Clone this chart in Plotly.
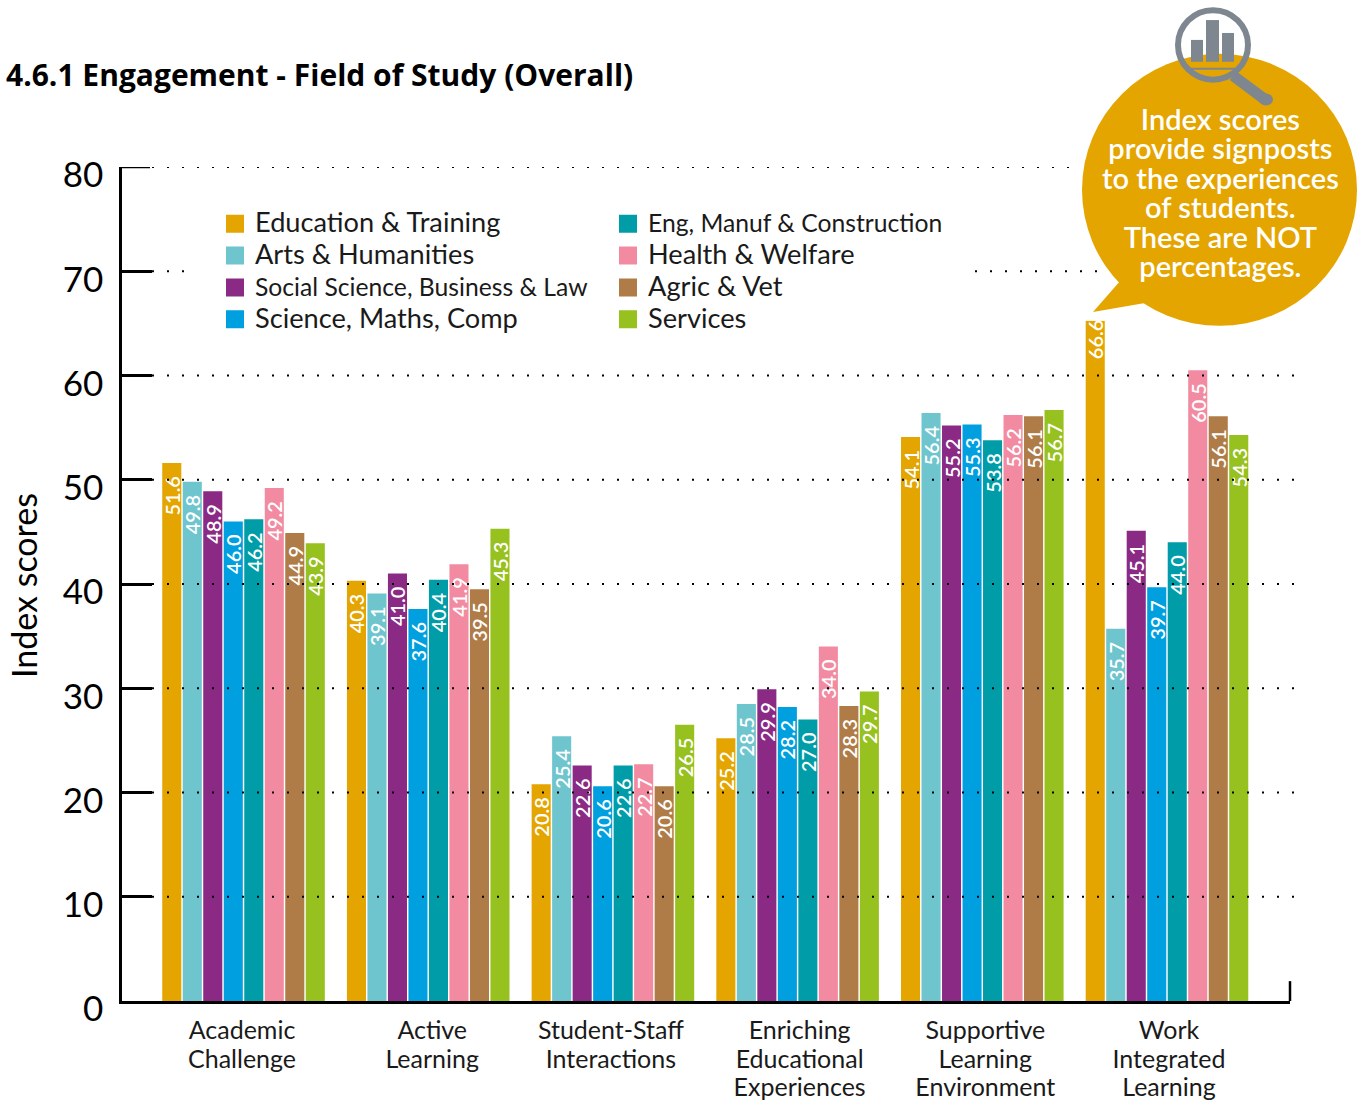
import plotly.graph_objects as go

W, H = 1362, 1113
L, R, T, B = 122, 1290, 167, 1007

groups = [["Academic", "Challenge"], ["Active", "Learning"], ["Student-Staff", "Interactions"],
          ["Enriching", "Educational", "Experiences"], ["Supportive", "Learning", "Environment"],
          ["Work", "Integrated", "Learning"]]
series_names = ["Education & Training", "Arts & Humanities", "Social Science, Business & Law",
                "Science, Maths, Comp", "Eng, Manuf & Construction", "Health & Welfare",
                "Agric & Vet", "Services"]
colors = ["#E5A500", "#6FC5CE", "#8A2A85", "#009FE0", "#009DA8", "#F28BA2", "#AF7C48", "#96C11E"]

education = [51.6, 40.3, 20.8, 25.2, 54.1, 66.6]
arts = [49.8, 39.1, 25.4, 28.5, 56.4, 35.7]
social = [48.9, 41.0, 22.6, 29.9, 55.2, 45.1]
science = [46.0, 37.6, 20.6, 28.2, 55.3, 39.7]
eng = [46.2, 40.4, 22.6, 27.0, 53.8, 44.0]
health = [49.2, 41.9, 22.7, 34.0, 56.2, 60.5]
agric = [44.9, 39.5, 20.6, 28.3, 56.1, 56.1]
services = [43.9, 45.3, 26.5, 29.7, 56.7, 54.3]
all_values = [education, arts, social, science, eng, health, agric, services]

y_ticks = [0, 10, 20, 30, 40, 50, 60, 70, 80]
callout_lines = ["Index scores", "provide signposts", "to the experiences",
                 "of students.", "These are NOT", "percentages."]
FONT = "Lato"

def px(x):
    return (x - L) / (R - L)
def py(y):
    return (B - y) / (B - T)
def sized(t, s):
    return f'<span style="font-size:{s}px">{t}</span>'

fig = go.Figure()
xs = list(range(len(groups)))
for name, vals, col in zip(series_names, all_values, colors):
    fig.add_trace(go.Bar(
        x=xs, y=vals, name=name, marker=dict(color=col, line=dict(width=0)),
        text=[f"{v:.1f}\u00a0\u00a0" for v in vals], textposition="inside",
        insidetextanchor="end", textangle=-90, constraintext="none",
        insidetextfont=dict(color="white", size=20, family=FONT, weight=600),
        showlegend=False, cliponaxis=False))
condensed = {"Social Science, Business & Law": 24.7, "Eng, Manuf & Construction": 24.7}
for i, (name, col) in enumerate(zip(series_names, colors)):
    fig.add_trace(go.Scatter(
        x=[None], y=[None], mode="markers", name=sized(name, condensed.get(name, 27.2)),
        marker=dict(symbol="square", size=16, color=col, line=dict(width=2, color=col)),
        legend="legend" if i < 4 else "legend2"))

shapes = []
def dots(v, a, b):
    shapes.append(dict(type="line", xref="paper", yref="y", x0=px(a), x1=px(b), y0=v, y1=v,
                       line=dict(color="black", width=2, dash="2px,13px"), layer="above"))
for v in y_ticks[1:]:
    if v == 80:
        dots(v, 152, 1070)
    elif v == 70:
        dots(v, 152, 188)
        dots(v, 975, 1100)
    else:
        dots(v, 152, 1296)
shapes.append(dict(type="line", xref="paper", yref="paper", x0=1, x1=1, y0=0, y1=py(987),
                   line=dict(color="black", width=2.5)))
shapes.append(dict(type="line", xref="paper", yref="y", x0=px(120), x1=px(150), y0=80, y1=80,
                   line=dict(color="black", width=2.5), layer="above"))
GOLD = "#E5A500"
GREY = "#7E8690"
def pshape(kind, x0, y0, x1, y1, **kw):
    shapes.append(dict(type=kind, xref="paper", yref="paper", x0=px(x0), x1=px(x1),
                       y0=py(y0), y1=py(y1), layer="above", **kw))
pshape("rect", 1083, 296, 1108, 322, fillcolor="white", line=dict(width=0))
pshape("circle", 1082, 53, 1357, 327, fillcolor=GOLD, line=dict(width=0))
tail = [(1119, 283), (1093, 313), (1145, 304)]
shapes.append(dict(type="path", xref="paper", yref="paper", layer="above", fillcolor=GOLD,
                   line=dict(width=0),
                   path="M" + " L".join(f"{px(a)},{py(b)}" for a, b in tail) + " Z"))
pshape("circle", 1178, 9, 1248, 79, line=dict(color=GREY, width=6))
pshape("line", 1233, 75, 1265, 99, line=dict(color=GREY, width=11))
pshape("circle", 1259, 93, 1273, 105, fillcolor=GREY, line=dict(width=0))
pshape("line", 1190, 68, 1237, 68, line=dict(color=GREY, width=2))
for a, b, top in [(1191, 1203, 39), (1206, 1219, 19), (1222, 1234, 32)]:
    pshape("rect", a, top, b, 61, fillcolor=GREY, line=dict(width=0))

annotations = [
    dict(text="<br>".join(sized(t, 29) for t in callout_lines), x=px(1220), y=py(192),
         xref="paper", yref="paper", showarrow=False, xanchor="center", yanchor="middle",
         align="center", font=dict(family=FONT, size=22.6, color="white", weight=600)),
    dict(text="Index scores", x=px(24), y=py(589), xref="paper", yref="paper",
         showarrow=False, textangle=-90, xanchor="center", yanchor="middle",
         font=dict(family=FONT, size=34, color="black")),
]

label_nudge = [-1.5, 4, -2, 2, 3, 2]
legend_common = dict(bgcolor="rgba(0,0,0,0)", borderwidth=0, xanchor="left", yanchor="top",
                     font=dict(family=FONT, size=22.2, color="#1a1a1a"),
                     itemclick=False, itemdoubleclick=False)
fig.update_layout(
    width=W, height=H, autosize=False,
    margin=dict(l=L, r=W - R, t=T, b=H - B, pad=0),
    paper_bgcolor="white", plot_bgcolor="white",
    barmode="group", bargap=0.112, bargroupgap=0.07,
    font=dict(family=FONT, color="black"),
    title=dict(text="<b>4.6.1 Engagement - Field of Study (Overall)</b>", x=6 / W, xanchor="left",
               y=1 - 75 / H, yanchor="middle", font=dict(family="Open Sans", size=30, color="black")),
    xaxis=dict(range=[-0.658, 5.666], tickvals=[i + n / 184.7 for i, n in zip(xs, label_nudge)],
               ticktext=["<br>".join(sized(t, 25) for t in g) for g in groups], ticks="",
               showgrid=False, zeroline=False, showline=True, linecolor="black", linewidth=2.5,
               ticklabelstandoff=9,
               tickfont=dict(family=FONT, size=22, color="#1a1a1a")),
    yaxis=dict(range=[0, 80], tickvals=y_ticks, ticks="inside", ticklen=30, tickwidth=2.5,
               tickcolor="black", showgrid=False, zeroline=False, showline=True, linecolor="black",
               linewidth=2.5, ticklabelshift=8, ticklabelstandoff=9,
               tickfont=dict(family=FONT, size=35, color="black")),
    legend=dict(x=px(215), y=py(203), **legend_common),
    legend2=dict(x=px(608), y=py(203), **legend_common),
    shapes=shapes, annotations=annotations,
)
fig.write_html("out.html", config=dict(displayModeBar=False),
               post_script="document.body.style.margin='0';")
